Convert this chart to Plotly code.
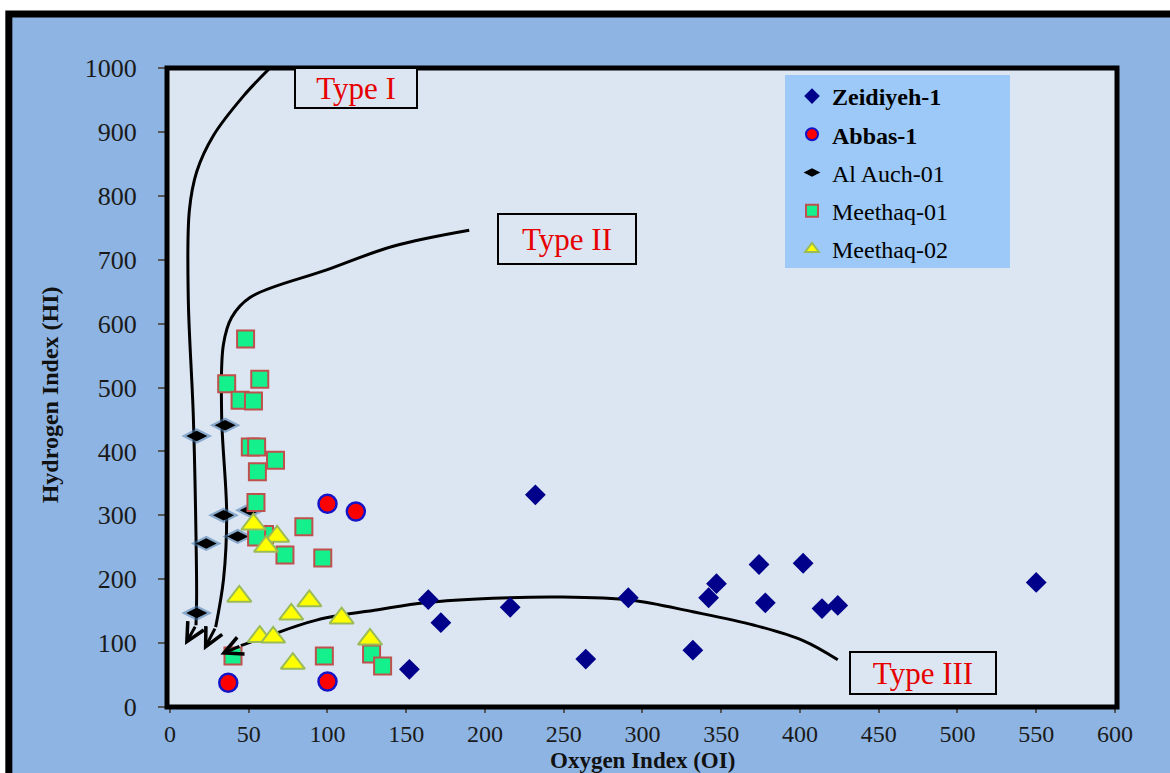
import plotly.graph_objects as go

# ---------------- data ----------------
x_ticks = [0, 50, 100, 150, 200, 250, 300, 350, 400, 450, 500, 550, 600]
y_ticks = [0, 100, 200, 300, 400, 500, 600, 700, 800, 900, 1000]

zeid_oi = [550, 232, 164, 172, 216, 152, 264, 291, 332, 347, 342, 374, 378, 402, 414, 424]
zeid_hi = [195, 332, 168, 132, 156, 59, 75, 171, 89, 193, 171, 223, 163, 225, 154, 159]

abbas_oi = [100, 118, 37, 100]
abbas_hi = [318, 306, 38, 40]

alauch_oi = [17, 35, 34, 43, 23, 51, 17]
alauch_hi = [424, 441, 300, 267, 256, 308, 147]

m01_oi = [48, 36, 57, 44.5, 53, 51, 55, 67, 55.5, 54.6, 85, 60, 55, 73, 97, 40, 98, 128, 135]
m01_hi = [576, 506, 513, 480, 479, 407, 407, 386, 368, 320, 282, 270, 266, 238, 233, 80, 80, 83, 64]

m02_oi = [53, 68, 61, 44, 88.5, 77, 109, 57, 65.5, 127, 78]
m02_hi = [286, 267, 251, 173, 166, 145, 139, 110, 109, 106, 68]

# kerogen-type guide curves (last point = arrow tip)
t1_oi = [63.5, 46.6, 27.5, 17, 12.3, 11.6, 14.8, 16.5, 16.9, 16.5, 9.5]
t1_hi = [1000, 956, 894, 838, 777, 641, 456, 270, 170, 128, 97]
t2_oi = [190, 141.7, 99.5, 50.8, 39.2, 33.9, 32.8, 36, 34, 29, 21.5]
t2_hi = [746, 721, 684, 641, 610, 567, 456, 301, 200, 125, 89]
t3_oi = [424, 402, 371, 332, 293, 248, 205, 162, 134, 93, 61, 45, 32]
t3_hi = [74, 104, 128, 149, 167, 172, 170, 163, 153, 136, 110, 96, 82]

type_labels = ["Type I", "Type II", "Type III"]
type_pos_oi = [117.8, 252, 478.4]
type_pos_hi = [968.7, 733, 53]
type_box_w = [118, 134, 142]
type_box_h = [36, 46, 38]

FONT = "Liberation Serif"

fig = go.Figure()

# curves
for cx, cy in [(t1_oi, t1_hi), (t2_oi, t2_hi), (t3_oi, t3_hi)]:
    fig.add_trace(go.Scatter(x=cx[:-1], y=cy[:-1], mode="lines",
                             line=dict(color="black", width=3, shape="spline"),
                             showlegend=False, hoverinfo="skip"))
    fig.add_annotation(x=cx[-1], y=cy[-1], ax=cx[-2], ay=cy[-2],
                       xref="x", yref="y", axref="x", ayref="y", text="",
                       showarrow=True, arrowhead=5, arrowsize=1.2, arrowwidth=3,
                       arrowcolor="black")

# series
fig.add_trace(go.Scatter(x=zeid_oi, y=zeid_hi, mode="markers", name="<b>Zeidiyeh-1</b>",
                         legendgroup="g1",
                         marker=dict(symbol="diamond", size=16, color="#00008B",
                                     line=dict(width=0))))
fig.add_trace(go.Scatter(x=abbas_oi, y=abbas_hi, mode="markers", name="<b>Abbas-1</b>",
                         legendgroup="g2",
                         marker=dict(symbol="circle", size=18, color="#FF0000",
                                     line=dict(width=2.5, color="#1414C8"))))
fig.add_trace(go.Scatter(x=alauch_oi, y=alauch_hi, mode="markers", name="Al Auch-01",
                         legendgroup="g3", showlegend=False, hoverinfo="skip",
                         marker=dict(symbol="diamond-wide", size=22,
                                     color="rgba(70,120,175,0.55)", line=dict(width=0))))
fig.add_trace(go.Scatter(x=alauch_oi, y=alauch_hi, mode="markers", name="Al Auch-01",
                         legendgroup="g3",
                         marker=dict(symbol="diamond-wide", size=15, color="black",
                                     line=dict(width=0))))
fig.add_trace(go.Scatter(x=m01_oi, y=m01_hi, mode="markers", name="Meethaq-01",
                         legendgroup="g4",
                         marker=dict(symbol="square", size=17, color="#14F08C",
                                     line=dict(width=2, color="#C0504D"))))
fig.add_trace(go.Scatter(x=m02_oi, y=m02_hi, mode="markers", name="Meethaq-02",
                         legendgroup="g5",
                         marker=dict(symbol="triangle-up", size=21, color="#FFFF00",
                                     line=dict(width=2, color="#9BBB59"))))

# type label boxes
for lab, px, py, w, h in zip(type_labels, type_pos_oi, type_pos_hi, type_box_w, type_box_h):
    fig.add_annotation(x=px, y=py, xref="x", yref="y", text=lab, showarrow=False,
                       font=dict(family=FONT, size=31, color="#E60000"),
                       width=w, height=h, bgcolor="#DCE6F2", bordercolor="black",
                       borderwidth=2, borderpad=1, align="center", valign="middle")

# axis titles
fig.add_annotation(x=0.5, y=(707 - 761) / 639, xref="paper", yref="paper",
                   text="<b>Oxygen Index (OI)</b>",
                   showarrow=False, font=dict(family=FONT, size=23, color="#111"),
                   xanchor="center", yanchor="middle")
fig.add_annotation(x=-0.123, y=0.488, xref="paper", yref="paper", text="<b>Hydrogen Index (HI)</b>",
                   showarrow=False, textangle=-90, font=dict(family=FONT, size=24, color="#111"),
                   xanchor="center", yanchor="middle")

# background frame, plot area, legend box
shapes = [
    dict(type="rect", xref="paper", yref="paper", x0=-0.1665, x1=1.08, y0=-0.15, y1=1.0845,
         fillcolor="#8DB4E2", line=dict(color="black", width=7), layer="below"),
    dict(type="rect", xref="paper", yref="paper", x0=0, x1=1, y0=0, y1=1,
         fillcolor="#DCE6F2", line=dict(width=0), layer="below"),
    dict(type="rect", xref="paper", yref="paper", x0=(785 - 167) / 950, x1=(1010 - 167) / 950,
         y0=(707 - 268) / 639, y1=(707 - 75) / 639,
         fillcolor="#9CC9F7", line=dict(width=0), layer="below"),
    dict(type="rect", xref="paper", yref="paper", x0=0, x1=1, y0=0, y1=1,
         line=dict(color="black", width=5), layer="above"),
]

fig.update_layout(
    width=1170, height=773,
    margin=dict(l=167, r=53, t=68, b=66),
    paper_bgcolor="white", plot_bgcolor="#DCE6F2",
    font=dict(family=FONT, color="black"),
    shapes=shapes,
    xaxis=dict(range=[-1.9, 601.3], tickvals=x_ticks, ticks="outside", ticklen=5,
               tickcolor="#555", tickwidth=1.5, tickfont=dict(size=24, color="#1a1a1a", family=FONT),
               showgrid=False, zeroline=False, showline=False, ticklabelstandoff=0),
    yaxis=dict(range=[0, 1000], tickvals=y_ticks, ticks="outside", ticklen=8,
               tickcolor="#555", tickwidth=1.5, tickfont=dict(size=26, color="#1a1a1a", family=FONT),
               showgrid=False, zeroline=False, showline=False, ticklabelstandoff=16),
    legend=dict(x=(792 - 167) / 950, y=(707 - 74) / 639, xanchor="left", yanchor="top",
                bgcolor="rgba(0,0,0,0)", font=dict(size=24, family=FONT, color="black"),
                traceorder="grouped", tracegroupgap=4, itemsizing="constant"),
    showlegend=True,
)

fig.write_html("out.html")
